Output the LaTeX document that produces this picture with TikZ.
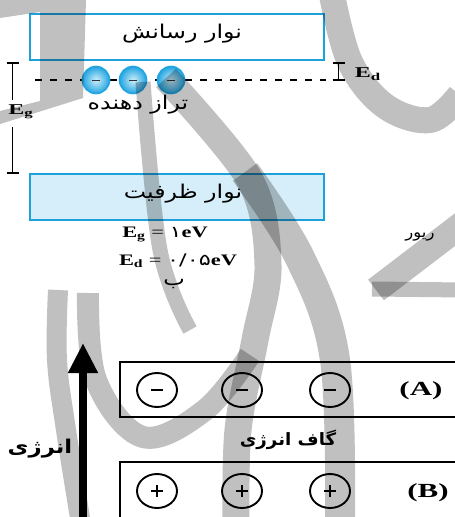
\documentclass[tikz,border=0pt]{standalone}
\usepackage{fontspec}
\usepackage{graphicx}
\setmainfont{Liberation Serif}
\newfontfamily\fa[Script=Arabic]{DejaVu Sans}
\TeXXeTstate=1
\usetikzlibrary{arrows.meta,shapes.geometric}
\definecolor{bandblue}{RGB}{30,160,220}
\definecolor{bandfill}{RGB}{214,238,249}
\definecolor{dotblue}{RGB}{35,165,225}
\definecolor{dotcore}{RGB}{205,238,250}
\definecolor{wmgray}{RGB}{192,192,192}
\newcommand{\sym}[2]{\textbf{#1}\textsubscript{\textbf{#2}}}
\newcommand{\wide}[2]{\scalebox{#1}[1]{#2}}

\begin{document}
\begin{tikzpicture}[x=1pt,y=-1pt,
  bandbox/.style={draw=bandblue, line width=2pt, minimum width=294pt,
    minimum height=46pt, inner sep=0pt},
  donor/.style={circle, minimum size=27pt, inner sep=0pt, draw=dotblue,
    line width=1.6pt, inner color=dotcore, outer color=dotblue},
  farsi/.style={font=\fa\fontsize{19}{22}\selectfont, inner sep=0pt},
  farsibold/.style={font=\fa\bfseries\fontsize{19}{22}\selectfont, inner sep=0pt},
  eqn/.style={font=\fontsize{16}{18}\selectfont, inner sep=0pt, anchor=base},
  lbl/.style={font=\fontsize{15}{17}\selectfont, inner sep=0pt},
  levelbox/.style={draw, line width=2.2pt, minimum width=350pt, inner sep=0pt},
  carrier/.style={ellipse, draw, line width=1.9pt, minimum width=40pt,
    minimum height=34pt, inner sep=0pt},
  tick/.style={line width=1.3pt},
  wm/.style={draw=wmgray, line cap=butt, line join=round}]

\useasboundingbox (0,0) rectangle (455,517);
\clip (0,0) rectangle (455,517);
\fill[white] (0,0) rectangle (455,517);

% ---------- band diagram (part b) ----------
\node[bandbox, fill=white] (cond) at (177,37) {};
\node[farsi] (condtxt) at (182,34) {\wide{1.25}{\beginR نوار رسانش\endR}};
\node[bandbox, fill=bandfill] (val) at (177,196.5) {};
\node[farsi] (valtxt) at (183,194) {\wide{1.25}{\beginR نوار ظرفیت\endR}};

% donor level
\coordinate (dl) at (35,80);
\coordinate (dr) at (326,80);
\draw[line width=1.2pt, dash pattern=on 7pt off 8pt] (dl) -- (dr);
\foreach \i/\x in {1/96,2/133,3/171}{
  \node[donor] (d\i) at (\x,80) {};
  \draw[line width=1pt, gray!40!black] ([xshift=-4pt]d\i.center) -- ([xshift=4pt]d\i.center);
}
\node[farsi] (donortxt) at (138,105) {\wide{1.25}{\beginR تراز دهنده\endR}};

% E_g bracket
\coordinate (gtop) at (12.5,63);
\coordinate (gmid1) at (12.5,100);
\coordinate (gmid2) at (12.5,127);
\coordinate (gbot) at (12.5,173);
\draw[tick] (gtop) -- (gmid1) (gmid2) -- (gbot);
\draw[tick] ([xshift=-6pt]gtop) -- ([xshift=6pt]gtop);
\draw[tick] ([xshift=-6pt]gbot) -- ([xshift=6pt]gbot);
\node[lbl] (eglbl) at (21,112) {\wide{1.6}{\sym{E}{g}}};

% E_d bracket
\coordinate (dtop) at (338.5,63);
\coordinate (dbot) at (338.5,80);
\draw[tick] (dtop) -- (dbot);
\draw[tick] ([xshift=-6pt]dtop) -- ([xshift=6pt]dtop);
\draw[tick] ([xshift=-6pt]dbot) -- ([xshift=6pt]dbot);
\node[lbl] (edlbl) at (368,74) {\wide{1.6}{\sym{E}{d}}};

% values
\node[eqn] (egval) at (165,237) {\wide{1.4}{\sym{E}{g} = {\fa ۱}\textbf{eV}}};
\node[eqn] (edval) at (178,265) {\wide{1.4}{\sym{E}{d} = {\fa ۰/۰۵}\textbf{eV}}};
\node[farsi] (partb) at (174,284) {\wide{1.2}{\beginR ب\endR}};
\node[farsi, font=\fa\fontsize{15}{17}\selectfont] (month) at (420,237) {\wide{1.1}{\beginR ریور\endR}};

% ---------- energy levels (A) and (B) ----------
\coordinate (axisfoot) at (83,520);
\coordinate (axistip) at (83,343);
\draw[line width=8pt, -{Triangle[length=30pt,width=28pt]}] (axisfoot) -- (axistip);
\node[farsibold] (energy) at (40,449) {\wide{1.2}{\beginR انرژی\endR}};

\node[levelbox, minimum height=55pt] (boxA) at (295,389.5) {};
\node[levelbox, minimum height=80pt] (boxB) at (295,502) {};
\node[farsibold, font=\fa\bfseries\fontsize{17}{20}\selectfont] (gap) at (288,440) {\wide{1.07}{\beginR گاف انرژی\endR}};

\foreach \i/\x in {1/157,2/242,3/330}{
  \node[carrier] (e\i) at (\x,390) {};
  \draw[line width=2.2pt] ([xshift=-6pt]e\i.center) -- ([xshift=6pt]e\i.center);
  \node[carrier] (h\i) at (\x,491) {};
  \draw[line width=2.2pt] ([xshift=-6pt]h\i.center) -- ([xshift=6pt]h\i.center);
  \draw[line width=2.2pt] ([yshift=-6pt]h\i.center) -- ([yshift=6pt]h\i.center);
}
\node[font=\bfseries\fontsize{20}{22}\selectfont, inner sep=0pt] (labA) at (421,391) {\wide{1.55}{(A)}};
\node[font=\bfseries\fontsize{20}{22}\selectfont, inner sep=0pt] (labB) at (428,493) {\wide{1.55}{(B)}};

% ---------- gray watermark strokes ----------
\begin{scope}[blend mode=multiply]
  \fill[wmgray] (0,0) -- (86,0) -- (83,98) -- (0,124) -- (0,111) -- (40,101)
    -- (40,12) -- (0,18) -- cycle;
  \draw[wm, line width=27pt] plot[smooth, tension=0.55] coordinates
    {(166,78) (250,180) (268,265) (255,340) (238,430) (236,530)};
  \draw[wm, line width=22pt] plot[smooth, tension=0.6] coordinates
    {(88,293) (96,380) (143,437) (205,410) (250,355)};
  \draw[wm, line width=15pt] plot[smooth, tension=0.6] coordinates
    {(143,82) (160,250) (190,330)};
  \draw[wm, line width=30pt] plot[smooth, tension=0.6] coordinates
    {(245,172) (300,258) (335,360) (340,530)};
  \draw[wm, line width=20pt] plot[smooth, tension=0.6] coordinates
    {(58,290) (57,360) (66,430) (82,530)};
  \draw[wm, line width=26pt] plot[smooth, tension=0.6] coordinates
    {(332,-5) (350,62) (385,106) (430,120) (460,95)};
  \draw[wm, line width=26pt] (465,222) -- (376,290);
  \draw[wm, line width=15pt] (372,289) -- (465,290);
\end{scope}
\end{tikzpicture}
\end{document}
